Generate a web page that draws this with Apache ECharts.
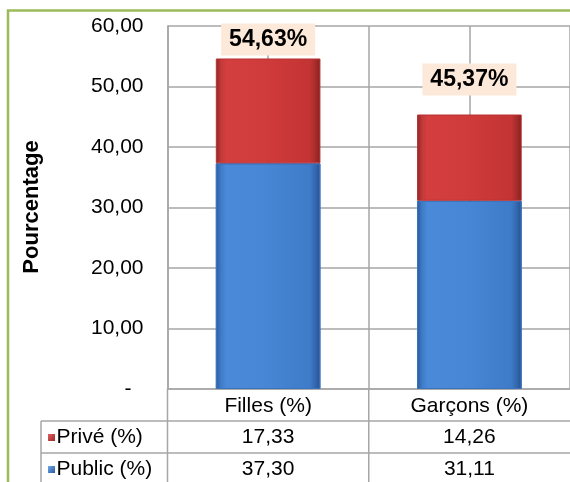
<!DOCTYPE html>
<html>
<head>
<meta charset="utf-8">
<script src="https://cdn.jsdelivr.net/npm/echarts@6/dist/echarts.min.js"></script>
<style>
html,body{margin:0;padding:0;background:#fff;}
#c{width:570px;height:482px;}
</style>
</head>
<body>
<div id="c"></div>
<script>
var categories = ['Filles (%)', 'Garçons (%)'];
var publicVals = [37.30, 31.11];
var priveVals = [17.33, 14.26];
var seriesNames = ['Public (%)', 'Privé (%)'];
var yTicks = [0, 10, 20, 30, 40, 50, 60];

var FONT = 'Liberation Sans, Arial, sans-serif';
var GRID = '#a6a6a6';
function fr(v){ return v.toFixed(2).replace('.', ','); }

var redGrad = new echarts.graphic.LinearGradient(0,0,1,0,[
  {offset:0,color:'#8f2424'},{offset:0.05,color:'#c23a3a'},{offset:0.1,color:'#d43e3e'},
  {offset:0.5,color:'#cf3a3a'},{offset:0.9,color:'#c43434'},{offset:0.95,color:'#a82c2c'},{offset:1,color:'#842020'}]);
var blueGrad = new echarts.graphic.LinearGradient(0,0,1,0,[
  {offset:0,color:'#2c5a9e'},{offset:0.05,color:'#3f7cc8'},{offset:0.1,color:'#4a8ad8'},
  {offset:0.5,color:'#4686d4'},{offset:0.9,color:'#3e7bc8'},{offset:0.95,color:'#3468b0'},{offset:1,color:'#28508e'}]);
var redSq = new echarts.graphic.LinearGradient(0,0,1,1,[{offset:0,color:'#e06060'},{offset:1,color:'#a02828'}]);
var blueSq = new echarts.graphic.LinearGradient(0,0,1,1,[{offset:0,color:'#6fa8ec'},{offset:1,color:'#2c5a9e'}]);

var labelDist = [3, 19];

var chart = echarts.init(document.getElementById('c'), null, {renderer:'canvas'});
var option = {
  animation: false,
  grid: {left: 167.5, top: 26, width: 410, height: 363, containLabel: false},
  xAxis: [{
    type: 'category', data: categories, position: 'bottom',
    axisLine: {show: true, lineStyle: {color: GRID, width: 1.5}},
    axisTick: {show: false},
    splitLine: {show: false},
    axisLabel: {color: '#000', fontFamily: FONT, fontSize: 21, margin: 7}
  }, {
    type: 'value', min: 0, max: categories.length * 2, interval: 1, position: 'top',
    axisLine: {show: false}, axisTick: {show: false}, axisLabel: {show: false},
    splitLine: {show: true, lineStyle: {color: GRID, width: 1.5}}
  }],
  yAxis: {
    type: 'value', min: yTicks[0], max: yTicks[yTicks.length-1], interval: 10,
    axisLine: {show: true, lineStyle: {color: GRID, width: 1.5}},
    axisTick: {show: false},
    splitLine: {show: true, lineStyle: {color: GRID, width: 1.5}},
    axisLabel: {
      color: '#000', fontFamily: FONT, fontSize: 21, margin: 24,
      formatter: function(v){ return v === 0 ? '{d|-}' : fr(v); },
      rich: {d: {color:'#000', fontFamily: FONT, fontSize: 21, padding: [0, 12, 0, 0]}}
    }
  },
  series: [{
    name: seriesNames[0], type: 'bar', stack: 's', xAxisIndex: 0, barWidth: '52%',
    data: publicVals,
    itemStyle: {color: blueGrad, borderColor: '#3a72bd', borderWidth: 1}
  }, {
    name: seriesNames[1], type: 'bar', stack: 's', xAxisIndex: 0, barWidth: '52%',
    data: priveVals.map(function(v, i){ return {value: v, label: {distance: labelDist[i]}}; }),
    itemStyle: {color: redGrad, borderColor: '#b83232', borderWidth: 1},
    label: {
      show: true, position: 'top',
      formatter: function(p){ var i = p.dataIndex; return fr(publicVals[i] + priveVals[i]) + '%'; },
      color: '#000', fontFamily: FONT, fontSize: 23, fontWeight: 'bold',
      backgroundColor: '#fde9d9', padding: [5, 8, 4, 8]
    }
  }]
};
chart.setOption(option);

// data table below the plot
var y0 = chart.convertToPixel({yAxisIndex: 0}, 0);
var rowH = 32;
var leftX = 41;
var plotL = chart.convertToPixel({xAxisIndex: 1}, 0);
var sepX = chart.convertToPixel({xAxisIndex: 1}, 2);
var rightX = chart.convertToPixel({xAxisIndex: 1}, 4);
var gfx = [];
gfx.push({type:'rect', shape:{x:8, y:10.5, width:620, height:520}, style:{fill:'none', stroke:'#9bbb59', lineWidth:2.5}, z:100});
function hline(y, x1, x2){ gfx.push({type:'line', shape:{x1:x1, y1:y, x2:x2, y2:y}, style:{stroke:GRID, lineWidth:1.5}, z:50}); }
function vline(x, y1, y2){ gfx.push({type:'line', shape:{x1:x, y1:y1, x2:x, y2:y2}, style:{stroke:GRID, lineWidth:1.5}, z:50}); }
hline(y0 + rowH, leftX, rightX);
hline(y0 + 2*rowH, leftX, rightX);
vline(leftX, y0 + rowH, 500);
vline(plotL, y0, 500);
vline(sepX, y0, 500);
var rows = [{name: seriesNames[1], vals: priveVals, sq: redSq}, {name: seriesNames[0], vals: publicVals, sq: blueSq}];
rows.forEach(function(r, ri){
  var cy = y0 + rowH*(ri+1) + rowH/2;
  gfx.push({type:'rect', shape:{x:48, y:cy-3, width:7, height:7}, style:{fill:r.sq}, z:60});
  gfx.push({type:'text', x:56.5, y:cy, style:{text:r.name, fill:'#000', font:'21px '+FONT, textAlign:'left', textVerticalAlign:'middle'}, z:60});
  r.vals.forEach(function(v, ci){
    var cx = chart.convertToPixel({xAxisIndex: 0}, categories[ci]);
    gfx.push({type:'text', x:cx, y:cy, style:{text:fr(v), fill:'#000', font:'21px '+FONT, textAlign:'center', textVerticalAlign:'middle'}, z:60});
  });
});
gfx.push({type:'text', x:32, y:207, rotation:Math.PI/2, style:{text:'Pourcentage', fill:'#000', font:'bold 22px '+FONT, textAlign:'center', textVerticalAlign:'middle'}, z:60});
chart.setOption({graphic: gfx});
</script>
</body>
</html>
